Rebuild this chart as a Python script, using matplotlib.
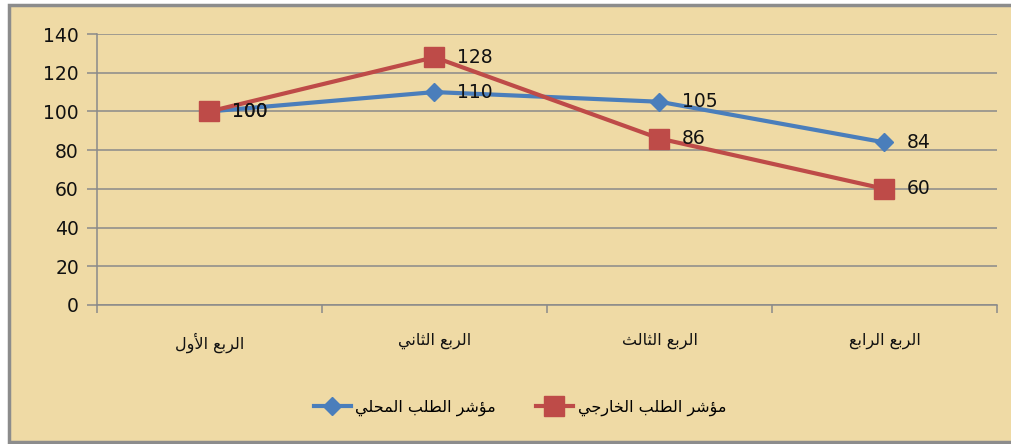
import matplotlib
matplotlib.use("Agg")
import matplotlib.pyplot as plt
from matplotlib.patches import Rectangle
from matplotlib.lines import Line2D

# ---------------- data ----------------
categories = ["الربع الأول", "الربع الثاني", "الربع الثالث", "الربع الرابع"]
series_names = ["مؤشر الطلب المحلي", "مؤشر الطلب الخارجي"]
local_values = [100, 110, 105, 84]
external_values = [100, 128, 86, 60]
y_ticks = [0, 20, 40, 60, 80, 100, 120, 140]

# ------------- minimal Arabic shaping (matplotlib has no bidi/shaping) -------------
FORMS = {  # isolated, final, initial, medial (None -> right-joining only)
    "ا": (0xFE8D, 0xFE8E, None, None),
    "أ": (0xFE83, 0xFE84, None, None),
    "ب": (0xFE8F, 0xFE90, 0xFE91, 0xFE92),
    "ث": (0xFE99, 0xFE9A, 0xFE9B, 0xFE9C),
    "ج": (0xFE9D, 0xFE9E, 0xFE9F, 0xFEA0),
    "ح": (0xFEA1, 0xFEA2, 0xFEA3, 0xFEA4),
    "خ": (0xFEA5, 0xFEA6, 0xFEA7, 0xFEA8),
    "ر": (0xFEAD, 0xFEAE, None, None),
    "ش": (0xFEB5, 0xFEB6, 0xFEB7, 0xFEB8),
    "ط": (0xFEC1, 0xFEC2, 0xFEC3, 0xFEC4),
    "ع": (0xFEC9, 0xFECA, 0xFECB, 0xFECC),
    "ل": (0xFEDD, 0xFEDE, 0xFEDF, 0xFEE0),
    "م": (0xFEE1, 0xFEE2, 0xFEE3, 0xFEE4),
    "ن": (0xFEE5, 0xFEE6, 0xFEE7, 0xFEE8),
    "و": (0xFEED, 0xFEEE, None, None),
    "ؤ": (0xFE85, 0xFE86, None, None),
    "ي": (0xFEF1, 0xFEF2, 0xFEF3, 0xFEF4),
    "لا": (0xFEFB, 0xFEFC, None, None),
    "لأ": (0xFEF7, 0xFEF8, None, None),
}


def shape(text):
    tokens = []
    i = 0
    while i < len(text):
        pair = text[i:i + 2]
        if pair in ("لا", "لأ"):
            tokens.append(pair)
            i += 2
        else:
            tokens.append(text[i])
            i += 1
    out = []
    for k, t in enumerate(tokens):
        if t not in FORMS:
            out.append(t)
            continue
        iso, fin, ini, med = FORMS[t]
        prev = tokens[k - 1] if k > 0 else None
        nxt = tokens[k + 1] if k + 1 < len(tokens) else None
        join_prev = prev in FORMS and FORMS[prev][2] is not None
        join_next = ini is not None and nxt in FORMS
        if join_prev and join_next:
            c = med
        elif join_prev:
            c = fin
        elif join_next:
            c = ini
        else:
            c = iso
        out.append(chr(c))
    return "".join(out)[::-1]


# ---------------- figure ----------------
W, H = 1012, 444
fig = plt.figure(figsize=(W / 100, H / 100), dpi=100, facecolor="white")
frame = Rectangle((8.5 / W, 2.5 / H), (W - 4) / W, (H - 8) / H,
                  transform=fig.transFigure, facecolor="#EFDAA5",
                  edgecolor="#8C8C8C", linewidth=2.5, zorder=-10)
fig.add_artist(frame)

ax = fig.add_axes([97 / W, 139 / H, 900 / W, 271 / H])
ax.set_zorder(1)
ax.set_facecolor("none")
x = list(range(len(categories)))

grid_c = "#8A8A8A"
ax.set_ylim(0, 140)
ax.set_xlim(-0.5, len(categories) - 0.5)
ax.set_yticks(y_ticks)
ax.set_yticklabels([str(v) for v in y_ticks], fontsize=13.5, color="#111111")
ax.yaxis.grid(True, color=grid_c, linewidth=1.1)
ax.set_axisbelow(True)

ax.set_xticks(x)
ax.set_xticklabels([shape(c) for c in categories], fontsize=11.5,
                   family="DejaVu Sans", color="#111111")
ax.set_xticks([i - 0.5 for i in range(len(categories) + 1)], minor=True)
ax.tick_params(axis="x", which="major", length=0, pad=20)
ax.tick_params(axis="x", which="minor", length=6, color=grid_c, width=1.1)
ax.tick_params(axis="y", length=7, color=grid_c, width=1.1, pad=6)

for s in ("top", "right"):
    ax.spines[s].set_visible(False)
for s in ("left", "bottom"):
    ax.spines[s].set_color(grid_c)
    ax.spines[s].set_linewidth(1.1)

blue = "#4A7EBB"
red = "#BE4B48"
ax.plot(x, local_values, color=blue, linewidth=3, marker="D", markersize=9,
        zorder=3, label=shape(series_names[0]))
ax.plot(x, external_values, color=red, linewidth=3, marker="s", markersize=14,
        zorder=4, label=shape(series_names[1]))

for xs, vs in ((x, local_values), (x, external_values)):
    for xi, v in zip(xs, vs):
        ax.annotate(str(v), (xi, v), xytext=(16, 0), textcoords="offset points",
                    va="center", ha="left", fontsize=13.5, color="#111111", zorder=5)

handles = [
    Line2D([], [], color=blue, linewidth=3, marker="D", markersize=9),
    Line2D([], [], color=red, linewidth=3, marker="s", markersize=14),
]
fig.legend(handles, [shape(n) for n in series_names], ncol=2,
           loc="center", bbox_to_anchor=(520 / W, 1 - 408 / H), frameon=False,
           fontsize=11.5, handlelength=2.3, columnspacing=2.5, handletextpad=0.3)

fig.savefig("out.png", dpi=100, facecolor="white")
